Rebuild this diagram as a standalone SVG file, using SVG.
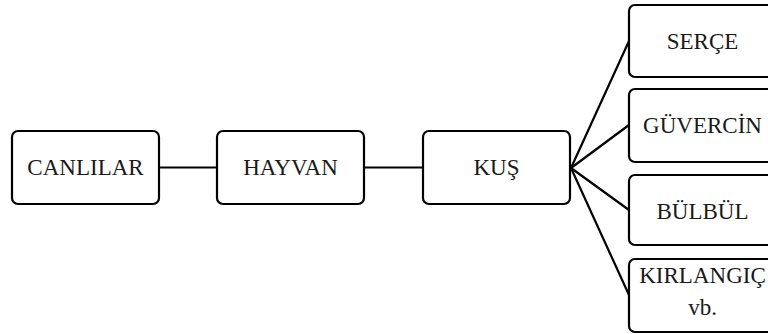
<svg xmlns="http://www.w3.org/2000/svg" width="768" height="334" viewBox="0 0 768 334">
<style>
.box{fill:#fff;stroke:#000;stroke-width:2.2}
.t{font-family:"Liberation Serif","Times New Roman",serif;font-size:23px;fill:#1a1a1a;text-anchor:middle}
.c{stroke:#000;stroke-width:2.2;fill:none}
</style>
<rect width="768" height="334" fill="#fff"/>
<g id="connectors">
<line class="c" x1="159" y1="167.5" x2="217" y2="167.5"/>
<line class="c" x1="364" y1="167.5" x2="423" y2="167.5"/>
<line class="c" x1="571" y1="168" x2="629" y2="41"/>
<line class="c" x1="571" y1="168" x2="629" y2="125"/>
<line class="c" x1="571" y1="168" x2="629" y2="210"/>
<line class="c" x1="571" y1="168" x2="629" y2="295"/>
</g>
<g id="canlilar"><rect class="box" x="12" y="131" width="147" height="73" rx="6"/><text class="t" x="85.5" y="175">CANLILAR</text></g>
<g id="hayvan"><rect class="box" x="217" y="131" width="147" height="73" rx="6"/><text class="t" x="290.5" y="175">HAYVAN</text></g>
<g id="kus"><rect class="box" x="423" y="131" width="147" height="73" rx="6"/><text class="t" x="496.5" y="175">KUŞ</text></g>
<g id="serce"><rect class="box" x="629" y="5" width="147" height="72" rx="6"/><text class="t" x="702.5" y="49">SERÇE</text></g>
<g id="guvercin"><rect class="box" x="629" y="89" width="147" height="73" rx="6"/><text class="t" x="702.5" y="133">GÜVERCİN</text></g>
<g id="bulbul"><rect class="box" x="629" y="175" width="147" height="70" rx="6"/><text class="t" x="702.5" y="219">BÜLBÜL</text></g>
<g id="kirlangic"><rect class="box" x="629" y="259" width="147" height="73" rx="6"/><text class="t" x="702.5" y="283">KIRLANGIÇ</text><text class="t" x="702.5" y="315">vb.</text></g>
</svg>
